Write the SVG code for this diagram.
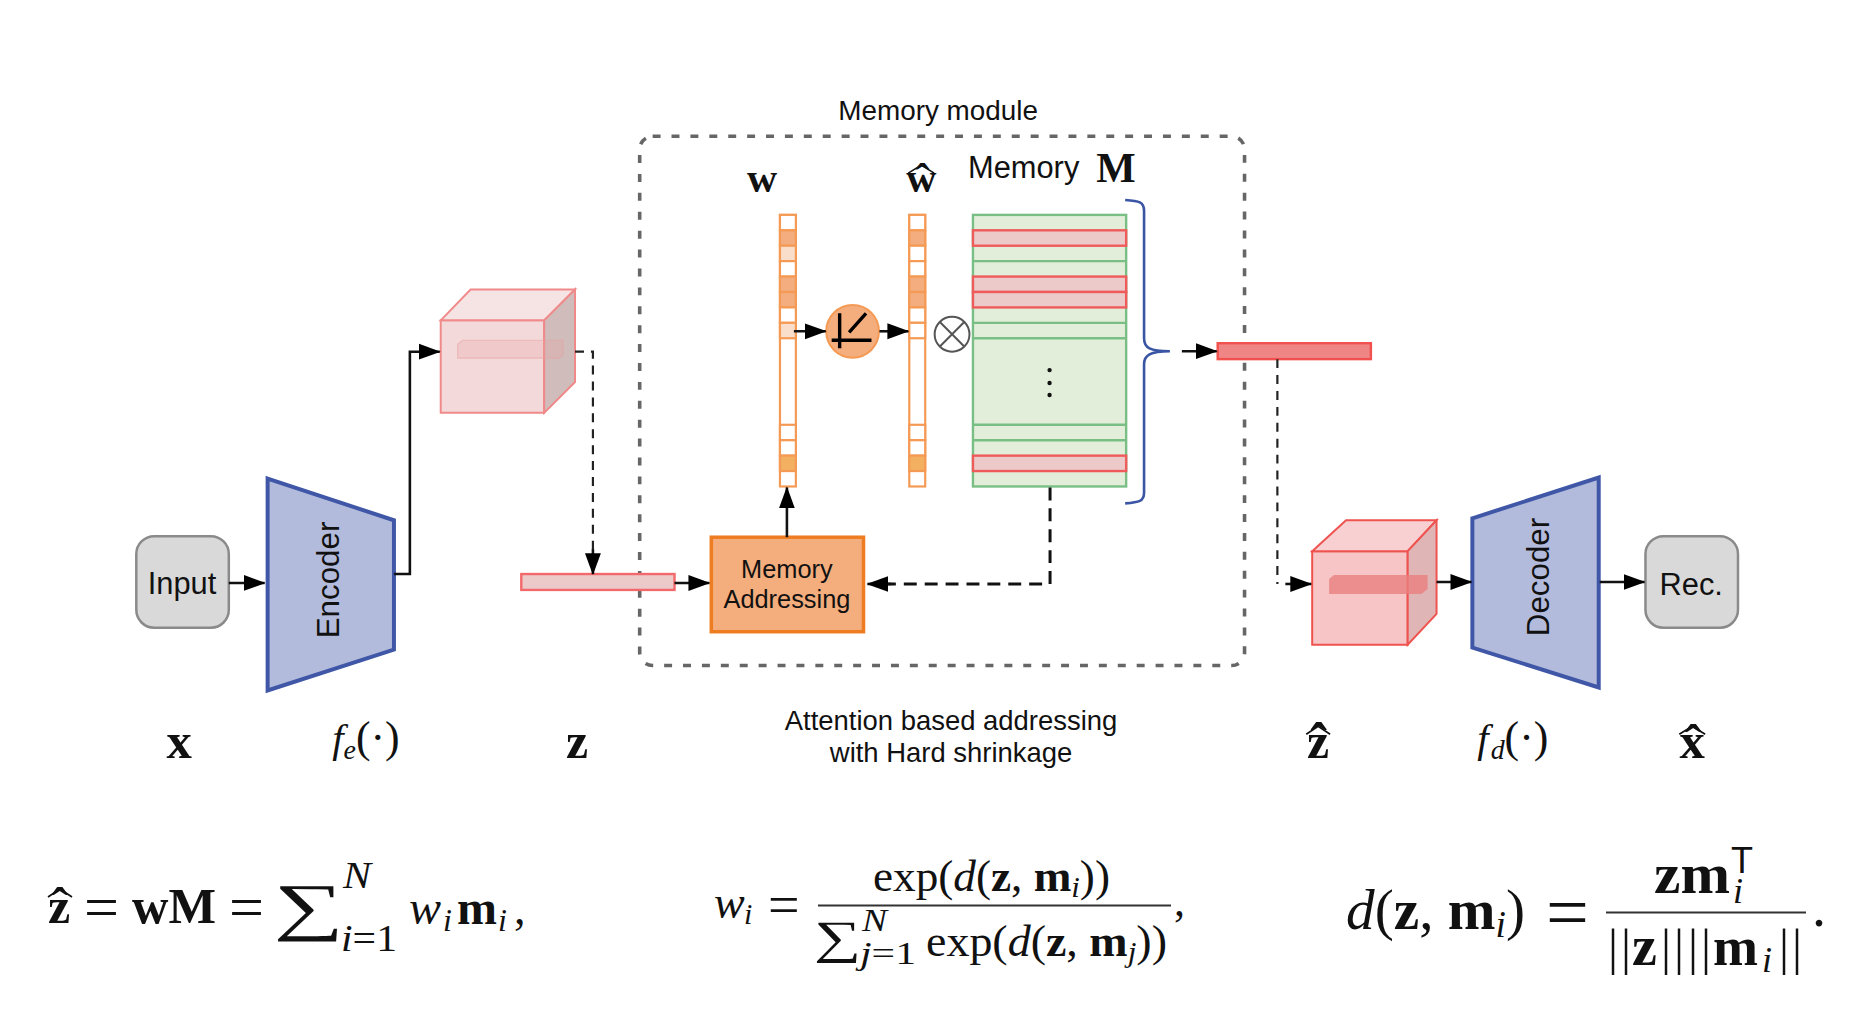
<svg xmlns="http://www.w3.org/2000/svg" width="1876" height="1012" viewBox="0 0 1876 1012">
<style>
text{fill:#111}
.s{font-family:"Liberation Sans",Arial,sans-serif}
.m{font-family:"Liberation Serif","Times New Roman",serif}
.b{font-weight:700}
.i{font-style:italic}
.c{text-anchor:middle}
.box{fill:#d9d9d9;stroke:#8a8a8a;stroke-width:2.5}
.trap{fill:#b3bbdc;stroke:#3f57a6;stroke-width:4}
.arrow{fill:none;stroke:#111;stroke-width:2.6;marker-end:url(#ah)}
.dash{fill:none;stroke:#222;stroke-width:2.2;stroke-dasharray:9 7}
.cell{fill:#fff;stroke:#f59a55;stroke-width:2.2}
.od{fill:#f3ad7f;stroke:#f59a55;stroke-width:2.2}
.ol{fill:#f9dfcb;stroke:#f59a55;stroke-width:2.2}
.oy{fill:#f2b060;stroke:#f59a55;stroke-width:2.2}
.mem{fill:#e2eed9;stroke:#79bf85;stroke-width:2.4}
.red{fill:#eccaca;stroke:#ef5a5a;stroke-width:2.4}
.rule{stroke:#333;stroke-width:2.2;fill:none}
.hat{stroke:#111;stroke-width:1.7;fill:none}
</style>
<defs>
<marker id="ah" markerUnits="userSpaceOnUse" markerWidth="24" markerHeight="18" refX="21" refY="9" orient="auto"><path d="M0 1 L22 9 L0 17 Z" fill="#000"/></marker>
</defs>

<g transform="scale(.99484)">
<g id="memory-module">
<rect x="643" y="137" width="608" height="532" rx="13" fill="none" stroke="#666" stroke-width="3.6" stroke-dasharray="8 11"/>
<text class="s c" x="943" y="121" font-size="28">Memory module</text>
</g>

<g id="input"><rect class="box" x="137" y="539" width="93" height="92" rx="18"/><text class="s c" x="183" y="597" font-size="31">Input</text></g>
<g id="encoder"><path class="trap" d="M269 481 L396 523 V653 L269 694 Z"/><text class="s c" transform="translate(341 583) rotate(-90)" font-size="31.5">Encoder</text></g>

<g id="cube-encoded">
<path d="M443 322 H547 V415 H443 Z" fill="#f4d9da" stroke="#f08a8a" stroke-width="2"/>
<path d="M443 322 L473 291 H578 L547 322 Z" fill="#f6e3e4" stroke="#f08a8a" stroke-width="2"/>
<path d="M547 322 L578 291 V384 L547 415 Z" fill="#d1bcbc" stroke="#f08a8a" stroke-width="2"/>
<path d="M460 346 L465 342 H566 V356 L562 360 H460 Z" fill="#e9a5a5" fill-opacity=".3" stroke="#e9a0a0" stroke-opacity=".5" stroke-width="1.2"/>
</g>
<g id="z-bar"><rect x="524" y="577" width="154" height="16" fill="#eccaca" stroke="#f2686b" stroke-width="2.4"/></g>

<g id="memory-addressing"><rect x="715" y="540" width="153" height="95" fill="#f4ad7c" stroke="#ee7d22" stroke-width="3.5"/>
<text class="s c" x="791" y="581" font-size="25.5">Memory</text><text class="s c" x="791" y="611" font-size="25.5">Addressing</text></g>

<g id="w-vector">
<rect class="cell" x="784" y="216" width="16" height="273"/>
<rect class="cell" x="784" y="216" width="16" height="15.5"/><rect class="od" x="784" y="231.5" width="16" height="15.5"/><rect class="ol" x="784" y="247" width="16" height="15.5"/><rect class="cell" x="784" y="262.5" width="16" height="15.5"/><rect class="od" x="784" y="278" width="16" height="15.5"/><rect class="od" x="784" y="293.5" width="16" height="15.5"/><rect class="cell" x="784" y="309" width="16" height="15.5"/><rect class="ol" x="784" y="324.5" width="16" height="15.5"/><rect class="cell" x="784" y="427" width="16" height="15.5"/><rect class="cell" x="784" y="442.5" width="16" height="15.5"/><rect class="oy" x="784" y="458" width="16" height="15.5"/>
<text class="m b c" x="766" y="193" font-size="42">w</text>
</g>
<g id="w-hat-vector">
<rect class="cell" x="914" y="216" width="16" height="273"/>
<rect class="cell" x="914" y="216" width="16" height="15.5"/><rect class="od" x="914" y="231.5" width="16" height="15.5"/><rect class="cell" x="914" y="247" width="16" height="15.5"/><rect class="cell" x="914" y="262.5" width="16" height="15.5"/><rect class="od" x="914" y="278" width="16" height="15.5"/><rect class="od" x="914" y="293.5" width="16" height="15.5"/><rect class="cell" x="914" y="309" width="16" height="15.5"/><rect class="cell" x="914" y="324.5" width="16" height="15.5"/><rect class="cell" x="914" y="427" width="16" height="15.5"/><rect class="cell" x="914" y="442.5" width="16" height="15.5"/><rect class="oy" x="914" y="458" width="16" height="15.5"/>
<text class="m b c" x="926" y="193" font-size="42">ŵ</text>
<path class="hat" d="M913 174 L926 166 L939 174"/>
</g>

<g id="shrinkage"><circle cx="857" cy="333" r="26.5" fill="#f4ad7c" stroke="#f59a55" stroke-width="2"/>
<path d="M836 342 H876 M844 315 V350 M853.5 334 L870.5 315" stroke="#000" stroke-width="3.4" fill="none"/></g>
<g id="product"><circle cx="957" cy="336" r="17.5" fill="#fff" stroke="#555" stroke-width="2"/><path d="M945 324 L969 348 M969 324 L945 348" stroke="#555" stroke-width="2" fill="none"/></g>

<g id="memory-matrix">
<rect class="mem" x="978" y="216" width="154" height="273"/>
<path d="M978 262.5 H1132 M978 324.5 H1132 M978 340 H1132 M978 427 H1132 M978 442.5 H1132" stroke="#79bf85" stroke-width="2.4"/>
<rect class="red" x="978" y="231.5" width="154" height="15.5"/><rect class="red" x="978" y="278" width="154" height="15.5"/><rect class="red" x="978" y="293.5" width="154" height="15.5"/><rect class="red" x="978" y="458" width="154" height="15.5"/>
<circle cx="1055" cy="372" r="2.2" fill="#111"/><circle cx="1055" cy="385" r="2.2" fill="#111"/><circle cx="1055" cy="397" r="2.2" fill="#111"/>
<text class="s" x="973" y="179" font-size="31">Memory</text><text class="m b" x="1102" y="183" font-size="42">M</text>
<path d="M1131 201 C1145 202 1150 203 1150 212 V340 C1150 350 1156 353 1176 353 C1156 353 1150 357 1150 366 V495 C1150 504 1145 505 1131 506" fill="none" stroke="#3b55a5" stroke-width="2.6"/>
</g>
<g id="z-hat-bar"><rect x="1224" y="345" width="154" height="16" fill="#f08585" stroke="#f2504e" stroke-width="2.4"/></g>

<g id="cube-decoded">
<path d="M1319 554 H1415 V648 H1319 Z" fill="#f7c5c5" stroke="#ef5350" stroke-width="2"/>
<path d="M1319 554 L1353 523 H1444 L1415 554 Z" fill="#f8d0d2" stroke="#ef5350" stroke-width="2"/>
<path d="M1415 554 L1444 523 V617 L1415 648 Z" fill="#e0b5b5" stroke="#ef5350" stroke-width="2"/>
<path d="M1336 582 L1341 578 H1435 V592 L1429 597 H1336 Z" fill="#ea7f7f" fill-opacity=".8"/>
</g>
<g id="decoder"><path class="trap" d="M1480 521 L1607 480 V691 L1480 651 Z"/><text class="s c" transform="translate(1557 580) rotate(-90)" font-size="31.5">Decoder</text></g>
<g id="reconstruction"><rect class="box" x="1654" y="539" width="93" height="92" rx="18"/><text class="s c" x="1700" y="598" font-size="31">Rec.</text></g>

<g id="connectors">
<path class="arrow" d="M230 586 H266"/>
<path class="arrow" d="M396 577 H412 V353.5 H442"/>
<path class="dash" d="M578 353.5 H596 V560"/><path class="arrow" d="M596 552 V577"/>
<path class="arrow" d="M678 586 H713"/>
<path class="arrow" d="M791 540 V490"/>
<path class="arrow" d="M798 333 H830"/>
<path class="arrow" d="M884 333 H913"/>
<path d="M1055.5 490 V587 H890" fill="none" stroke="#111" stroke-width="3" stroke-dasharray="13 8"/><path class="arrow" d="M896 587 H872"/>
<path class="arrow" d="M1188 353 H1223"/>
<path class="dash" d="M1284 361 V587"/><path class="arrow" d="M1292 587 H1318"/>
<path class="arrow" d="M1444 585 H1479"/>
<path class="arrow" d="M1608 585 H1653"/>
</g>

<g id="labels">
<text class="m b c" x="180" y="762" font-size="51">x</text>
<text class="m i" x="334" y="756" font-size="41">f<tspan font-size="28" dy="7">e</tspan><tspan dy="-7" font-style="normal" font-size="44">(·)</tspan></text>
<text class="m b c" x="580" y="762" font-size="50">z</text>
<text class="s c" x="956" y="734" font-size="27.6">Attention based addressing</text>
<text class="s c" x="956" y="766" font-size="27.6">with Hard shrinkage</text>
<text class="m b c" x="1325" y="762" font-size="50">ẑ</text>
<path class="hat" d="M1313 738 L1325 730 L1337 738"/>
<text class="m i" x="1485" y="756" font-size="41">f<tspan font-size="28" dy="7" dx="2">d</tspan><tspan dy="-7" font-style="normal" font-size="44">(·)</tspan></text>
<text class="m b c" x="1701" y="762" font-size="51">x̂</text>
<path class="hat" d="M1688 738 L1701 730 L1714 738"/>
</g>
</g>

<g id="equation-1" font-size="46">
<text class="m b" x="48" y="923" font-size="50">ẑ</text>
<path class="hat" d="M48 897 L60 889 L72 897"/>
<text class="m" x="84" y="928" font-size="62">=</text>
<text class="m b" x="132" y="923" font-size="50" textLength="84" lengthAdjust="spacingAndGlyphs">wM</text>
<text class="m" x="229" y="928" font-size="62">=</text>
<text class="m" transform="translate(273.5 928) scale(1.37 .88)" font-size="72">∑</text>
<text class="m i" x="343" y="888" font-size="38" textLength="28" lengthAdjust="spacingAndGlyphs">N</text>
<text class="m" x="341" y="951" font-size="38" textLength="56" lengthAdjust="spacingAndGlyphs"><tspan class="i">i</tspan>=1</text>
<text class="m i" x="409" y="924" font-size="48">w</text>
<text class="m i" x="443" y="931" font-size="32">i</text>
<text class="m b" x="457" y="924" font-size="48">m</text>
<text class="m i" x="498" y="931" font-size="32">i</text>
<text class="m" x="514" y="924">,</text>
</g>

<g id="equation-2" font-size="44">
<text class="m i" x="714" y="918" font-size="46">w</text>
<text class="m i" x="744" y="924" font-size="30">i</text>
<text class="m" x="768" y="924" font-size="56">=</text>
<path class="rule" d="M818 905.5 H1171"/>
<text class="m" x="873" y="891" textLength="237" lengthAdjust="spacingAndGlyphs">exp(<tspan class="i">d</tspan>(<tspan class="b">z</tspan>, <tspan class="b">m</tspan><tspan class="i" font-size="30" dy="6">i</tspan><tspan dy="-6">))</tspan></text>
<text class="m" transform="translate(814 952.6) scale(1.38 .97)" font-size="48">∑</text>
<text class="m i" x="862" y="931" font-size="32" textLength="25" lengthAdjust="spacingAndGlyphs">N</text>
<text class="m" x="860" y="964" font-size="32" textLength="56" lengthAdjust="spacingAndGlyphs"><tspan class="i">j</tspan>=1</text>
<text class="m" x="926" y="956" textLength="241" lengthAdjust="spacingAndGlyphs">exp(<tspan class="i">d</tspan>(<tspan class="b">z</tspan>, <tspan class="b">m</tspan><tspan class="i" font-size="30" dy="6">j</tspan><tspan dy="-6">))</tspan></text>
<text class="m" x="1174" y="916">,</text>
</g>

<g id="equation-3" font-size="56">
<text class="m" x="1346" y="929" font-size="58" textLength="179" lengthAdjust="spacingAndGlyphs"><tspan class="i">d</tspan>(<tspan class="b">z</tspan>, <tspan class="b">m</tspan><tspan class="i" font-size="38" dy="8">i</tspan><tspan dy="-8">)</tspan></text>
<text class="m" x="1546" y="938" font-size="76">=</text>
<path class="rule" d="M1606 912.5 H1806" stroke-width="2.4"/>
<text class="m b" x="1654" y="893" textLength="76" lengthAdjust="spacingAndGlyphs">zm</text>
<text class="m i" x="1733" y="903" font-size="36">i</text>
<text class="s" x="1731" y="873" font-size="36">T</text>
<text class="m" x="1608" y="964" font-size="50" letter-spacing="3">||</text>
<text class="m b" x="1632" y="965">z</text>
<text class="m" x="1661" y="964" font-size="50" letter-spacing="3">||</text>
<text class="m" x="1688" y="964" font-size="50" letter-spacing="3">||</text>
<text class="m b" x="1713" y="965" font-size="54">m</text>
<text class="m i" x="1762" y="972" font-size="36">i</text>
<text class="m" x="1779" y="964" font-size="50" letter-spacing="3">||</text>
<text class="m" x="1812" y="926">.</text>
</g>
</svg>
